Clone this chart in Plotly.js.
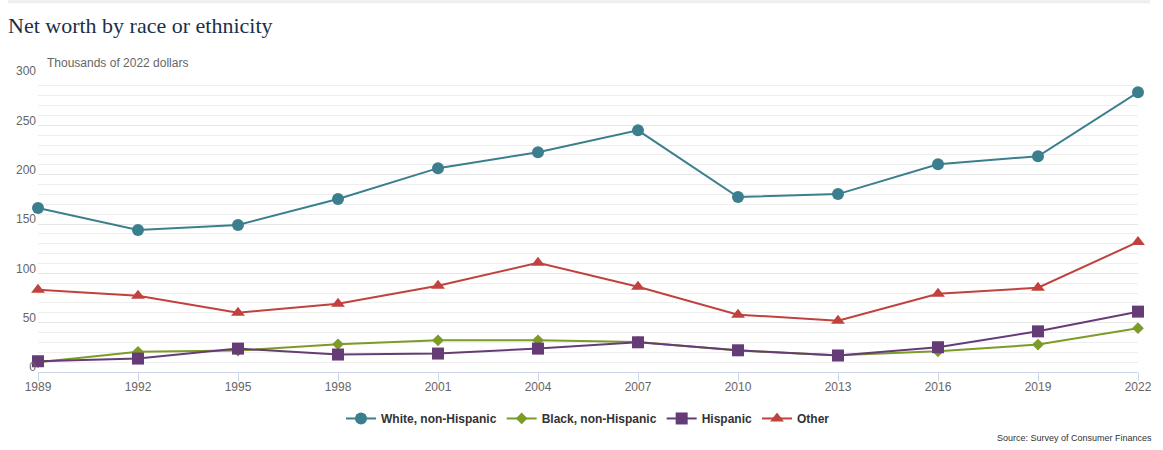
<!DOCTYPE html>
<html>
<head>
<meta charset="utf-8">
<script src="https://cdn.plot.ly/plotly-3.0.1.min.js"></script>
<style>
html,body{margin:0;padding:0;background:#fff;}
#chart{width:1163px;height:450px;}
</style>
</head>
<body>
<div id="chart"></div>
<script>
const years = [1989, 1992, 1995, 1998, 2001, 2004, 2007, 2010, 2013, 2016, 2019, 2022];
const whiteNonHispanic = [166.2, 143.9, 149.0, 175.3, 206.6, 222.7, 244.9, 177.3, 180.3, 210.6, 218.7, 283.5];
const blackNonHispanic = [9.9, 20.4, 21.7, 28.1, 32.1, 32.1, 30.5, 21.7, 17.0, 21.0, 27.8, 44.4];
const hispanic = [10.9, 13.6, 23.7, 17.7, 18.7, 23.7, 30.1, 22.0, 16.7, 25.1, 41.2, 61.2];
const other = [83.3, 77.3, 60.1, 69.2, 87.4, 110.6, 86.4, 58.1, 52.0, 79.3, 85.4, 131.8];
const seriesNames = ['White, non-Hispanic', 'Black, non-Hispanic', 'Hispanic', 'Other'];

const colors = ['#3b7f8e', '#7c9b27', '#663c76', '#c0423f'];
const symbols = ['circle', 'diamond', 'square', 'triangle-up'];
const sizes = [12, 9, 12, 12];
const values = [whiteNonHispanic, blackNonHispanic, hispanic, other];

const traces = values.map((v, i) => ({
  x: years,
  y: v,
  name: seriesNames[i],
  type: 'scatter',
  mode: 'lines+markers',
  line: {color: colors[i], width: 2},
  marker: {color: colors[i], symbol: symbols[i], size: sizes[i]},
  cliponaxis: false,
  hoverinfo: 'x+y+name'
}));

const layout = {
  width: 1163,
  height: 450,
  margin: {l: 38, r: 25, t: 75.5, b: 77.5, pad: 0},
  paper_bgcolor: '#ffffff',
  plot_bgcolor: '#ffffff',
  font: {family: 'Liberation Sans, Arial, sans-serif', color: '#666666', size: 12},
  title: {
    text: 'Net worth by race or ethnicity',
    font: {family: 'Liberation Serif, serif', size: 22, color: '#1d2f4a'},
    x: 8 / 1163, xref: 'container', xanchor: 'left',
    y: 1 - 25 / 450, yref: 'container', yanchor: 'middle'
  },
  xaxis: {
    type: 'linear',
    range: [1989, 2022],
    tickmode: 'array',
    tickvals: years,
    ticktext: years.map(String),
    showgrid: false,
    zeroline: false,
    showline: true,
    linecolor: '#ccd6eb',
    linewidth: 1,
    ticks: 'outside',
    ticklen: 8,
    tickcolor: '#ccd6eb',
    ticklabelstandoff: -4,
    tickfont: {size: 12, color: '#666666'}
  },
  yaxis: {
    range: [0, 300],
    tickmode: 'linear',
    tick0: 0,
    dtick: 50,
    showgrid: true,
    gridcolor: '#e6e6e6',
    gridwidth: 1,
    zeroline: false,
    showline: false,
    ticks: '',
    ticklabelshift: -5,
    ticklabelstandoff: 1,
    tickfont: {size: 12, color: '#666666'},
    minor: {dtick: 10, showgrid: true, gridcolor: '#eeeeee', gridwidth: 1}
  },
  showlegend: true,
  legend: {
    orientation: 'h',
    x: 0.5, xanchor: 'center',
    y: -0.157, yanchor: 'middle',
    font: {family: 'Liberation Sans, Arial, sans-serif', size: 12, color: '#333333', weight: 'bold'},
    itemwidth: 30,
    traceorder: 'normal'
  },
  annotations: [
    {
      text: 'Thousands of 2022 dollars',
      xref: 'paper', yref: 'paper',
      x: 7 / 1100, y: 1 + 13.5 / 297,
      xanchor: 'left', yanchor: 'middle',
      showarrow: false,
      font: {size: 12, color: '#666666'}
    },
    {
      text: 'Source: Survey of Consumer Finances',
      xref: 'paper', yref: 'paper',
      x: 1 + 16 / 1100, y: -66 / 297,
      xanchor: 'right', yanchor: 'middle',
      showarrow: false,
      font: {size: 9, color: '#333333'}
    }
  ],
  shapes: [
    {
      type: 'line', xref: 'paper', yref: 'paper',
      x0: -30 / 1100, x1: 1 + 12 / 1100,
      y0: 371.5 / 297, y1: 371.5 / 297,
      line: {color: '#eeeeee', width: 3}
    }
  ]
};

Plotly.newPlot('chart', traces, layout, {displayModeBar: false, responsive: false});
</script>
</body>
</html>
